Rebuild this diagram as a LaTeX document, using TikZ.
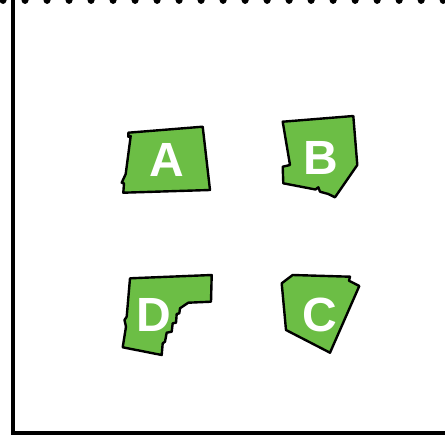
\documentclass[tikz,border=0pt]{standalone}
\usepackage{fontspec}
\setmainfont{Liberation Sans}
\definecolor{plotgreen}{HTML}{6CBE45}
\tikzset{
  plot/.style={fill=plotgreen, draw=black, line width=2.4pt, line join=round},
  plotlabel/.style={text=white, font=\bfseries\fontsize{48}{48}\selectfont, inner sep=0pt, anchor=center},
  frameline/.style={draw=black, line width=3.2pt},
  topline/.style={draw=black, line width=7pt, line cap=round, dash pattern=on 0.01pt off 22pt}
}
\begin{document}
\begin{tikzpicture}[x=1pt,y=-1pt]
\useasboundingbox (0,0) rectangle (445,442);
% frame
\draw[topline] (3,0) -- (446,0);
\draw[frameline] (13,0) -- (13,433) -- (446,433);
% A
\draw[plot] (128.3,132.7) -- (202.7,126.7) -- (210,190) -- (123.3,192.7) -- (124,183.3) -- (121.7,182.7) -- (125.7,174) -- (130.7,136) -- (128.3,136.7) -- cycle;
% B
\draw[plot] (282.7,121.7) -- (353.3,116) -- (357.3,165) -- (335,197.3) -- (328.3,194) -- (320,191.7) -- (318.3,187.3) -- (315.5,189.5) -- (283.3,183.3) -- (282.7,166.7) -- (290,165) -- cycle;
% D
\draw[plot] (130,278.3) -- (211.7,275) -- (211,301.7) -- (188.3,302.7) -- (180,308.3) -- (179.3,313.3) -- (176.7,314) -- (176,322.7) -- (172.7,323.3) -- (171.7,331.7) -- (166.7,332.7) -- (165,341.7) -- (162.7,343.3) -- (161.7,355) -- (122.7,347.3) -- (126,326.7) -- (124.5,320) -- (126.7,316.7) -- cycle;
% C
\draw[plot] (281.7,283.3) -- (292.7,275) -- (350,276.7) -- (349,280.7) -- (359.3,286) -- (330,352.7) -- (286,330) -- cycle;
% labels
\node[plotlabel] (la) at (166.7,160) {A};
\node[plotlabel] (lb) at (321,158) {B};
\node[plotlabel] (lc) at (320,315) {C};
\node[plotlabel] (ld) at (154,315) {D};
\end{tikzpicture}
\end{document}
